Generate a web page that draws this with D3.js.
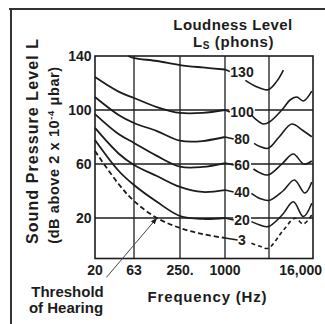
<!DOCTYPE html>
<html><head><meta charset="utf-8">
<script src="https://cdn.jsdelivr.net/npm/d3@7"></script>
<style>
html,body{margin:0;padding:0;background:#fff;}
svg{display:block;font-family:"Liberation Sans",Arial,sans-serif;font-weight:bold;}
</style>
</head><body>
<svg id="c" width="325" height="324"></svg>
<script>
// ---- data ----
const xTickValues = [20, 63, 250, 1000, 16000];
const xTickLabels = ["20", "63", "250.", "1000", "16,000"];
const xGridValues = [63, 250, 1000, 4000];
const yTickValues = [140, 100, 60, 20];
const yGridValues = [100, 60, 20];
const phonLabels = ["130", "100", "80", "60", "40", "20", "3"];

// [frequency Hz, sound pressure level dB]
const phon130Low  = [[53,140],[63,138.5],[125,136.3],[250,133.3],[500,131.5],[1000,130]];
const phon130High = [[1900,122],[2700,117.3],[3900,115],[5100,121.2],[6300,129.6]];
const phon100Low  = [[20,124.4],[40,113.6],[63,108.9],[125,102.2],[250,97.8],[500,97.8],[1000,100]];
const phon100High = [[2300,96.3],[2700,92.6],[3350,89.6],[4100,91.3],[6000,100],[7750,107.4],[9600,109.6],[11800,106.7],[15400,114]];
const phon80Low   = [[20,109.6],[40,96.3],[63,90.4],[125,84.4],[250,77.3],[500,77],[1000,80]];
const phon80High  = [[2500,75.3],[3000,73],[3900,71.6],[5500,80],[8200,89.6],[11500,85],[15400,80.2]];
const phon60Low   = [[20,97],[40,82.2],[63,75.6],[125,66],[250,58],[500,57.8],[1000,60.7]];
const phon60High  = [[2450,56.3],[3000,53.5],[3900,51.9],[6000,60],[8600,67.4],[12000,60],[15400,62.2]];
const phon40Low   = [[20,86.7],[40,67.8],[63,59.3],[125,51.1],[250,43],[500,39.3],[1000,40.7]];
const phon40High  = [[2300,38.3],[3000,34.5],[4000,33],[6200,40],[8900,48.1],[12400,38.5],[15400,46.7]];
const phon20Low   = [[20,77.8],[40,55],[63,44.4],[125,32],[250,21.5],[500,19.3],[1000,20]];
const phon20High  = [[2300,17.3],[3000,14.8],[3900,13.6],[6000,22],[8600,32],[11800,21],[15400,30.9]];
const thresholdLow  = [[20,69.6],[40,45.2],[63,32.6],[125,20],[250,12.6],[500,8.1],[1000,5.2]];
const thresholdHigh = [[2300,1.3],[3000,-1],[3900,-2.4],[6300,11.1],[9100,19.8],[11800,15.6],[15400,22.2]];

const lowCurves  = [phon130Low, phon100Low, phon80Low, phon60Low, phon40Low, phon20Low, thresholdLow];
const highCurves = [phon130High, phon100High, phon80High, phon60High, phon40High, phon20High, thresholdHigh];
const dashedFlags = [false,false,false,false,false,false,true];

const arrowFrom = [28, -24];
const arrowTo = [125, 20];

// ---- scales ----
const x = d3.scaleLog().domain([20, 63, 250, 1000, 4000, 16000]).range([95, 134, 180, 225, 269, 313]);
const y = d3.scaleLinear().domain([-10, 140]).range([258.5, 56]);

const svg = d3.select("#c");
const ink = "#1c1c1c";

// outer scan frame
svg.append("line").attr("x1",9).attr("x2",325).attr("y1",9).attr("y2",9).attr("stroke","#333").attr("stroke-width",2);
svg.append("line").attr("x1",11).attr("x2",11).attr("y1",8).attr("y2",324).attr("stroke","#333").attr("stroke-width",2);

// grid
const g = svg.append("g");
g.selectAll(".vg").data(xGridValues).join("line")
  .attr("x1", d => x(d)).attr("x2", d => x(d)).attr("y1", y(140)).attr("y2", y(-10))
  .attr("stroke", ink).attr("stroke-width", 1.3);
g.selectAll(".hg").data(yGridValues).join("line")
  .attr("x1", x(20)).attr("x2", x(16000)).attr("y1", d => y(d)).attr("y2", d => y(d))
  .attr("stroke", ink).attr("stroke-width", 1.3);
g.append("rect").attr("x", x(20)).attr("y", y(140)).attr("width", x(16000)-x(20)).attr("height", y(-10)-y(140))
  .attr("fill","none").attr("stroke", ink).attr("stroke-width", 1.6);

const line = d3.line().x(d => x(d[0])).y(d => y(d[1])).curve(d3.curveCatmullRom.alpha(0.5));

// low-frequency curves
lowCurves.forEach((c, i) => {
  svg.append("path").attr("d", line(c)).attr("fill","none").attr("stroke", ink)
    .attr("stroke-width", 1.8).attr("stroke-dasharray", dashedFlags[i] ? "5,3" : null);
});

// phon labels with white backgrounds
const labG = svg.append("g");
phonLabels.forEach((lab, i) => {
  const endVal = lowCurves[i][lowCurves[i].length-1][1];
  const ly = y(endVal) + 2;
  const t = labG.append("text").attr("x", x(1000) + 17).attr("y", ly).attr("dy","0.36em")
    .attr("text-anchor","middle").attr("font-size", 14).attr("fill", ink).text(lab);
  const bb = t.node().getBBox();
  labG.insert("rect", "text").attr("x", bb.x - 1).attr("y", bb.y + 1).attr("width", bb.width + 2).attr("height", bb.height - 2).attr("fill", "#fff");
  labG.append("line").attr("x1", x(1000)).attr("x2", bb.x - 0.5).attr("y1", y(endVal)).attr("y2", ly)
    .attr("stroke", ink).attr("stroke-width", 1.5);
});

// high-frequency curves
highCurves.forEach((c, i) => {
  svg.append("path").attr("d", line(c)).attr("fill","none").attr("stroke", ink)
    .attr("stroke-width", 1.6).attr("stroke-dasharray", dashedFlags[i] ? "4,3" : null);
});

// y tick labels
svg.selectAll(".yt").data(yTickValues).join("text")
  .attr("x", 91.5).attr("y", d => y(d) + 5).attr("text-anchor","end")
  .attr("font-size", 14).attr("fill", ink).text(d => d);

// x tick labels
svg.selectAll(".xt").data(xTickValues).join("text")
  .attr("x", (d, i) => i === xTickValues.length-1 ? x(d) + 9 : x(d))
  .attr("y", 274.5)
  .attr("text-anchor", (d, i) => i === xTickValues.length-1 ? "end" : "middle")
  .attr("font-size", 14).attr("fill", ink).text((d, i) => xTickLabels[i]);

function fit(sel, target) {
  const n = sel.text().length;
  const w = sel.node().getComputedTextLength();
  sel.attr("letter-spacing", (target - w) / (n - 1));
}

// top title
const t1 = svg.append("text").attr("x", 233).attr("y", 30).attr("text-anchor","middle")
  .attr("font-size", 15).attr("fill", ink).text("Loudness Level");
fit(t1, 119);
const t2 = svg.append("text").attr("x", 233.5).attr("y", 47).attr("text-anchor","middle")
  .attr("font-size", 15).attr("fill", ink).attr("letter-spacing", 0.6);
t2.append("tspan").text("L");
t2.append("tspan").attr("font-size", 10).attr("dy", 2).text("S");
t2.append("tspan").attr("dy", -2).text(" (phons)");

// y titles
const yt1 = svg.append("text").attr("transform", "translate(38,141) rotate(-90)")
  .attr("text-anchor","middle").attr("font-size", 16).attr("fill", ink).text("Sound Pressure Level L");
fit(yt1, 205);
const yt2 = svg.append("text").attr("transform", "translate(59,155) rotate(-90)")
  .attr("text-anchor","middle").attr("font-size", 14.5).attr("fill", ink);
yt2.append("tspan").text("(dB above 2 x 10");
yt2.append("tspan").attr("font-size", 9.5).attr("dy", -5).text("-4");
yt2.append("tspan").attr("dy", 5).text(" \u03bcbar)");
fit(yt2, 177);

// bottom texts
svg.append("text").attr("x", 67.5).attr("y", 297).attr("text-anchor","middle")
  .attr("font-size", 15).attr("fill", ink).text("Threshold");
svg.append("text").attr("x", 66).attr("y", 312.5).attr("text-anchor","middle")
  .attr("font-size", 15).attr("fill", ink).text("of Hearing");
const ft = svg.append("text").attr("x", 207.5).attr("y", 302).attr("text-anchor","middle")
  .attr("font-size", 15).attr("fill", ink).text("Frequency (Hz)");
fit(ft, 119);

// arrow
svg.append("defs").append("marker").attr("id","ah").attr("viewBox","0 0 10 10")
  .attr("refX", 9).attr("refY", 5).attr("markerWidth", 7).attr("markerHeight", 7)
  .attr("markerUnits","userSpaceOnUse").attr("orient","auto")
  .append("path").attr("d","M0,1.5 L10,5 L0,8.5 Z").attr("fill", ink);
svg.append("line").attr("x1", x(arrowFrom[0])).attr("y1", y(arrowFrom[1]))
  .attr("x2", x(arrowTo[0])).attr("y2", y(arrowTo[1]))
  .attr("stroke", "#444").attr("stroke-width", 1).attr("marker-end","url(#ah)");
</script>
</body></html>
